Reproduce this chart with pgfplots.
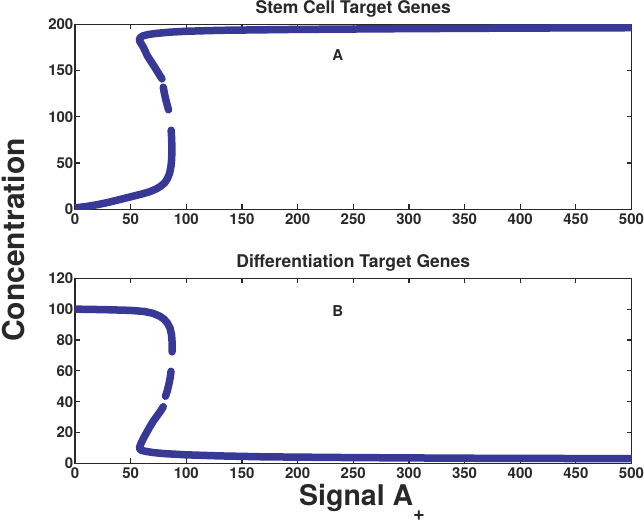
\documentclass[border=0pt]{standalone}
\usepackage{fontspec}
\setmainfont{TeX Gyre Heros}
\usepackage{pgfplots}
\pgfplotsset{compat=1.18}
\definecolor{curve}{RGB}{56,56,150}
\definecolor{txt}{RGB}{40,40,40}
\pgfplotsset{
 myax/.style={
  scale only axis, width=556.5pt, height=185pt,
  xmin=0,xmax=500, xtick={0,50,...,500},
  tick align=inside, major tick length=5pt,
  axis line style={txt, line width=1.2pt},
  tick style={txt, line width=1.2pt},
  ticklabel style={font=\fontsize{15}{16}\selectfont\bfseries, text=txt},
  /pgf/number format/assume math mode=true,
  title style={font=\fontsize{17.5}{19}\selectfont\bfseries, text=txt, at={(0.5,1)}, anchor=base, yshift=5pt},
  yticklabel style={inner sep=1.5pt},
  xticklabel style={inner sep=4.5pt},
 },
 seg/.style={curve, no markers, line width=7.5pt, line cap=round, line join=round},
}
\begin{document}
\begin{tikzpicture}
\path[use as bounding box] (-75pt,-313.7pt) rectangle (569pt,209.3pt);
\begin{axis}[myax, at={(0pt,0pt)}, anchor=south west, ymin=0, ymax=200, ytick={0,50,...,200}, title={Stem Cell Target Genes}]
\addplot[seg] coordinates {(0,1.5) (10,3) (20,5) (30,7.5) (40,10.5) (50,13.5) (60,16.5) (67,19) (73,22) (77,25) (80.5,28.5) (83,33) (85,39) (86.3,47) (86.9,55) (87,65) (86.9,75) (86.6,81) (86.4,85.5)};
\addplot[seg] coordinates {(84.0,107.6) (83,112) (81.5,119) (80.2,126) (79.3,132)};
\addplot[seg] coordinates {(78.2,141) (76,145) (72.5,152) (69,158.5) (65,166) (61.5,175) (59,180) (57.8,182.5) (58.5,185.5) (61,187.5) (66,189) (73,190.2) (85,191.5) (100,192.5) (130,193.5) (200,194.5) (300,195.3) (400,195.9) (500,196.3)};
\node[font=\fontsize{15}{16}\selectfont\bfseries, text=txt] at (axis cs:236,166.5) {A};
\end{axis}
\begin{axis}[myax, at={(0pt,-254pt)}, anchor=south west, ymin=0, ymax=120, ytick={0,20,...,120}, title={Differentiation Target Genes}]
\addplot[seg] coordinates {(0,100) (25,99.7) (50,99.2) (62,98.5) (70,97.3) (76,95.5) (80,93.5) (83,91) (85.5,87.5) (86.8,83) (87.3,78) (87.2,72.3)};
\addplot[seg] coordinates {(86.3,59.7) (85.6,56) (84.3,51) (82.7,46.5) (81.3,43.5)};
\addplot[seg] coordinates {(79.3,36.7) (77,34) (74,31) (70.5,27.5) (67.5,24) (64,19.5) (61,15.5) (58.8,12) (57.8,10) (59,8.6) (63,7.8) (70,7.0) (80,6.3) (100,5.5) (130,4.8) (170,4.2) (250,3.7) (350,3.3) (500,3.0)};
\node[font=\fontsize{15}{16}\selectfont\bfseries, text=txt] at (axis cs:236,98.8) {B};
\end{axis}
\node[rotate=90, font=\fontsize{30}{32}\selectfont\bfseries, text=txt, inner sep=0pt] at (-61.5pt,-30.7pt) {Concentration};
\node[anchor=base west, font=\fontsize{28.5}{30}\selectfont\bfseries, text=txt, inner sep=0pt] at (224pt,-295.7pt) {Signal A\raisebox{-15pt}{\fontsize{20}{22}\selectfont +}};
\end{tikzpicture}
\end{document}
